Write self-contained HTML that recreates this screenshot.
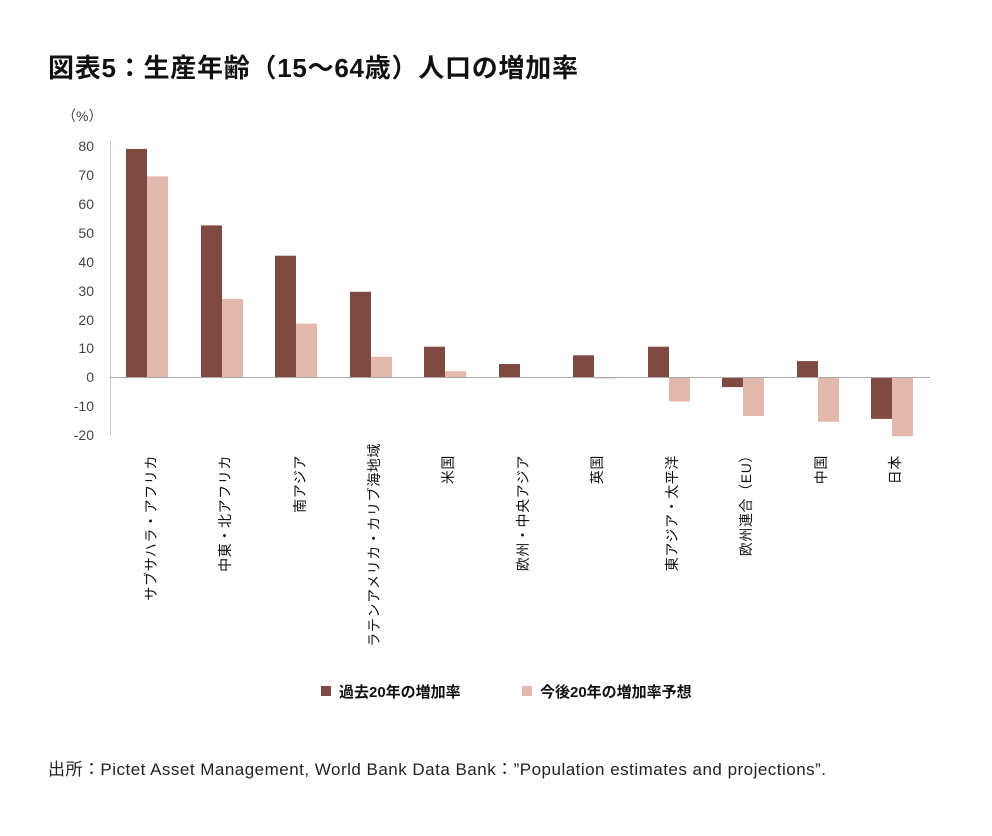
<!DOCTYPE html>
<html><head><meta charset="utf-8"><style>
body{margin:0;background:#fff;}
svg text{font-family:"Liberation Sans","Noto Sans CJK JP",sans-serif;}
</style></head><body>
<svg width="992" height="831" viewBox="0 0 992 831" xmlns="http://www.w3.org/2000/svg">
<rect width="992" height="831" fill="#fff"/>
<text x="48" y="77" font-size="26" font-weight="bold" fill="#111" textLength="530" lengthAdjust="spacing">図表5：生産年齢（15～64歳）人口の増加率</text>
<text x="62" y="121" font-size="14" fill="#444">（%）</text>
<g font-size="14" fill="#444" text-anchor="end">
<text x="94" y="151">80</text><text x="94" y="180">70</text><text x="94" y="209">60</text>
<text x="94" y="238">50</text><text x="94" y="267">40</text><text x="94" y="296">30</text>
<text x="94" y="325">20</text><text x="94" y="353">10</text><text x="94" y="382">0</text>
<text x="94" y="411">-10</text><text x="94" y="440">-20</text>
</g>
<line x1="110.5" y1="140" x2="110.5" y2="436" stroke="#ccc" stroke-width="1"/>
<g fill="#7f4a42">
<rect x="126" y="148.9" width="21" height="228.1"/>
<rect x="201" y="225.4" width="21" height="151.6"/>
<rect x="275" y="255.7" width="21" height="121.3"/>
<rect x="350" y="291.8" width="21" height="85.2"/>
<rect x="424" y="346.7" width="21" height="30.3"/>
<rect x="499" y="364" width="21" height="13"/>
<rect x="573" y="355.3" width="21" height="21.7"/>
<rect x="648" y="346.7" width="21" height="30.3"/>
<rect x="722" y="377" width="21" height="10.1"/>
<rect x="797" y="361.1" width="21" height="15.9"/>
<rect x="871" y="377" width="21" height="41.9"/>
</g>
<g fill="#e3b9ae">
<rect x="147" y="176.3" width="21" height="200.7"/>
<rect x="222" y="299" width="21" height="78"/>
<rect x="296" y="323.6" width="21" height="53.4"/>
<rect x="371" y="356.8" width="21" height="20.2"/>
<rect x="445" y="371.2" width="21" height="5.8"/>
<rect x="594" y="377" width="21" height="1.5"/>
<rect x="669" y="377" width="21" height="24.5"/>
<rect x="743" y="377" width="21" height="39"/>
<rect x="818" y="377" width="21" height="44.8"/>
<rect x="892" y="377" width="21" height="59.2"/>
</g>
<line x1="110" y1="377.5" x2="930" y2="377.5" stroke="#aaa" stroke-width="1"/>
<g font-size="14" fill="#111" text-anchor="end" letter-spacing="0.6">
<text transform="translate(156,455) rotate(-90)">サブサハラ・アフリカ</text>
<text transform="translate(230,455) rotate(-90)">中東・北アフリカ</text>
<text transform="translate(305,455) rotate(-90)">南アジア</text>
<text transform="translate(379,443) rotate(-90)">ラテンアメリカ・カリブ海地域</text>
<text transform="translate(453,455) rotate(-90)">米国</text>
<text transform="translate(528,455) rotate(-90)">欧州・中央アジア</text>
<text transform="translate(602,455) rotate(-90)">英国</text>
<text transform="translate(677,455) rotate(-90)">東アジア・太平洋</text>
<text transform="translate(751,448) rotate(-90)">欧州連合（EU）</text>
<text transform="translate(826,455) rotate(-90)">中国</text>
<text transform="translate(900,455) rotate(-90)">日本</text>
</g>
<rect x="321" y="686" width="10" height="10" fill="#7f4a42"/>
<text x="339" y="697" font-size="15" font-weight="bold" fill="#111">過去20年の増加率</text>
<rect x="522" y="686" width="10" height="10" fill="#e3b9ae"/>
<text x="540" y="697" font-size="15" font-weight="bold" fill="#111">今後20年の増加率予想</text>
<text x="48" y="775" font-size="17" fill="#222" textLength="778" lengthAdjust="spacing">出所：Pictet Asset Management, World Bank Data Bank：”Population estimates and projections”.</text>
</svg>
</body></html>
